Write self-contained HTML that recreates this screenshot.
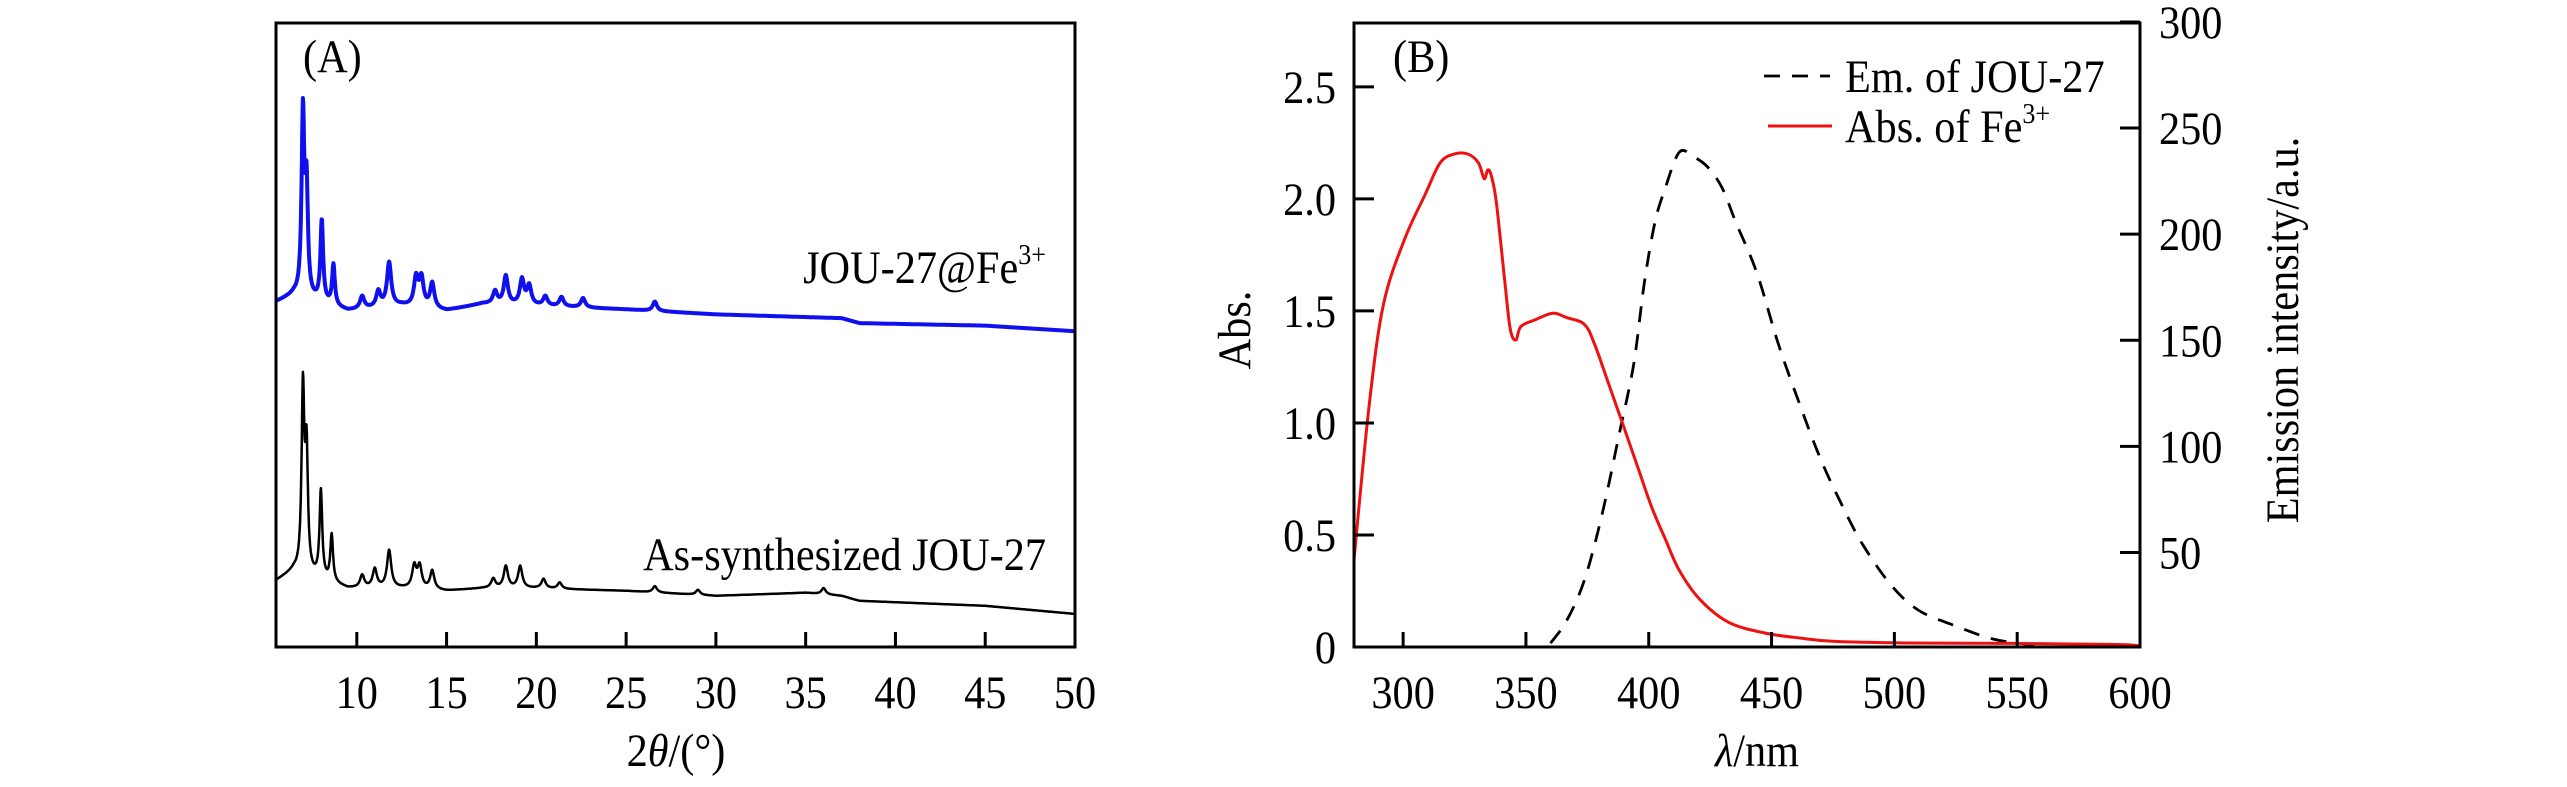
<!DOCTYPE html>
<html><head><meta charset="utf-8">
<style>
html,body{margin:0;padding:0;background:#fff;}
svg{display:block;font-family:"Liberation Serif",serif;}
</style></head>
<body>
<svg id="fig" width="2567" height="787" viewBox="0 0 2567 787" xmlns="http://www.w3.org/2000/svg">
<g id="pa"></g>
<g id="pb"></g>
</svg>
<script>
// ---------- Panel A data (XRD) ----------
const aBlueBaseX = [5.5, 6.5, 9.5, 12.5, 15, 17, 20, 25, 30, 37, 38, 45, 50];
const aBlueBaseY = [55.3, 56.4, 53.9, 54.7, 53.9, 55, 54.7, 54.1, 53.3, 52.7, 51.9, 51.5, 50.6];
const aBluePeakPos = [7.0, 7.2, 8.05, 8.7, 10.3, 11.2, 11.8, 13.3, 13.6, 14.2, 17.7, 18.3, 19.2, 19.6, 20.5, 21.4, 22.6, 26.6];
const aBluePeakH = [29, 17, 13, 6.5, 2, 2.5, 7, 4.5, 4.5, 4, 2, 4.5, 4, 3, 1.5, 1.5, 1.5, 1.5];
const aBlackBaseX = [5.5, 6.5, 9.5, 12.5, 15, 17, 20, 25, 30, 35, 37, 38, 45, 50];
const aBlackBaseY = [10.6, 12.2, 9.4, 9.4, 9.0, 9.4, 9.4, 9.0, 8.2, 8.7, 8.2, 7.4, 6.6, 5.3];
const aBlackPeakPos = [7.0, 7.2, 8.0, 8.6, 10.3, 11.0, 11.8, 13.2, 13.5, 14.2, 17.6, 18.3, 19.1, 20.4, 21.3, 26.6, 29, 36];
const aBlackPeakH = [29, 19, 14, 7.5, 2, 3, 6, 3.5, 3.5, 3, 1.5, 3.5, 3.5, 1.5, 1, 1, 0.8, 1];
const aTicks = [10, 15, 20, 25, 30, 35, 40, 45, 50];

// ---------- Panel B data ----------
const absX = [280,286.2,292,300.6,309,315,320.7,326.4,330.7,333,334.5,336,338,341.3,343.6,345.9,347.9,353.7,360.9,366.6,373.8,378,383.8,389.6,395.3,401,406.8,412.5,421,432.6,447,461.4,475.7,504,547.5,590.5,600];
const absY = [0.39,1.08,1.53,1.82,2.02,2.16,2.20,2.20,2.16,2.09,2.13,2.10,1.98,1.64,1.42,1.37,1.43,1.46,1.49,1.47,1.44,1.35,1.17,0.99,0.81,0.63,0.48,0.34,0.21,0.11,0.063,0.04,0.025,0.018,0.016,0.011,0.005];
const emX = [360,366.6,373.8,381,388,393.9,398.2,402.5,406.8,412.5,418.3,424,429.8,435.5,444,452.7,461.4,470,478.6,487.2,498.7,510,524.5,538.9,550.4,562];
const emY = [7.3,18,37,68,106,139,177,205.5,222,238.7,236.4,231.6,222,205.5,181.8,148.5,120,94,72.5,53.6,34.6,22.7,15.6,9.6,7.3,6];
const bXTicks = [300,350,400,450,500,550,600];
const bLTicks = [0,0.5,1.0,1.5,2.0,2.5];
const bLTickLabels = ["0","0.5","1.0","1.5","2.0","2.5"];
const bRTicks = [50,100,150,200,250,300];

const NS = "http://www.w3.org/2000/svg";
const FS = 47, SX = 0.9;
function mk(parent, tag, attrs, text){
  const e = document.createElementNS(NS, tag);
  for (const k in attrs) e.setAttribute(k, attrs[k]);
  if (text !== undefined) e.textContent = text;
  parent.appendChild(e);
  return e;
}
function txt(parent, x, y, anchor, html, rot){
  const tr = rot ? `translate(${x},${y}) rotate(-90) scale(${SX},1)` : `translate(${x},${y}) scale(${SX},1)`;
  const e = mk(parent,'text',{x:0,y:0,'font-size':FS,'text-anchor':anchor,transform:tr});
  e.innerHTML = html;
  return e;
}
function interp(xs, ys, x){
  if (x <= xs[0]) return ys[0];
  for (let i=1;i<xs.length;i++){ if (x <= xs[i]){ const t=(x-xs[i-1])/(xs[i]-xs[i-1]); return ys[i-1]+t*(ys[i]-ys[i-1]); } }
  return ys[ys.length-1];
}
function pattern(baseX, baseY, pos, h, x){
  let v = interp(baseX, baseY, x);
  for (let i=0;i<pos.length;i++){ const w = pos[i] < 9 ? 0.09 : 0.14; const d=(x-pos[i])/w; v += h[i]/(1+d*d); }
  return v;
}

// ---------- Panel A ----------
const pa = document.getElementById('pa');
const A = {l:276, r:1075, t:23, b:647, x0:5.5, x1:50, y0:0, y1:100};
const ax = v => A.l + (v-A.x0)/(A.x1-A.x0)*(A.r-A.l);
const ay = v => A.b - (v-A.y0)/(A.y1-A.y0)*(A.b-A.t);
function seriesPath(baseX, baseY, pos, h){
  let d = "";
  for (let x=A.x0; x<=A.x1+1e-9; x+=0.02){ d += (d?"L":"M") + ax(x).toFixed(1) + "," + ay(pattern(baseX,baseY,pos,h,x)).toFixed(1); }
  return d;
}
let e;
e = mk(pa,'path',{d:seriesPath(aBlueBaseX,aBlueBaseY,aBluePeakPos,aBluePeakH),fill:'none',stroke:'#1010ee','stroke-width':4,'stroke-linejoin':'round'});


e = mk(pa,'path',{d:seriesPath(aBlackBaseX,aBlackBaseY,aBlackPeakPos,aBlackPeakH),fill:'none',stroke:'#000','stroke-width':2.5,'stroke-linejoin':'round'});


e = mk(pa,'rect',{x:A.l,y:A.t,width:A.r-A.l,height:A.b-A.t,fill:'none',stroke:'#000','stroke-width':3});


aTicks.forEach(t=>{
  e = mk(pa,'line',{x1:ax(t),x2:ax(t),y1:A.b,y2:A.b-15,stroke:'#000','stroke-width':3});
  
  
  e = txt(pa, ax(t), 708, 'middle', String(t));
  
  
});
e = txt(pa, 676, 766, 'middle', '2<tspan font-style="italic">θ</tspan>/(°)');


e = txt(pa, 303, 72, 'start', '(A)');


e = txt(pa, 1046, 283, 'end', 'JOU-27@Fe<tspan font-size="29" dy="-19">3+</tspan>');


e = txt(pa, 1046, 570, 'end', 'As-synthesized JOU-27');



// ---------- Panel B ----------
const pb = document.getElementById('pb');
const B = {l:1354, r:2140, t:23, b:647, x0:280, x1:600, yl0:0, yl1:2.785, yr0:5.5, yr1:299.5};
const bx = v => B.l + (v-B.x0)/(B.x1-B.x0)*(B.r-B.l);
const byl = v => B.b - (v-B.yl0)/(B.yl1-B.yl0)*(B.b-B.t);
const byr = v => B.b - (v-B.yr0)/(B.yr1-B.yr0)*(B.b-B.t);
function smoothD(xs, ys, fy){
  const P = xs.map((x,i)=>[bx(x), fy(ys[i])]);
  let d = "M"+P[0][0].toFixed(1)+","+P[0][1].toFixed(1);
  for (let i=0;i<P.length-1;i++){
    const p0=P[Math.max(0,i-1)], p1=P[i], p2=P[i+1], p3=P[Math.min(P.length-1,i+2)];
    const c1=[p1[0]+(p2[0]-p0[0])/6, p1[1]+(p2[1]-p0[1])/6];
    const c2=[p2[0]-(p3[0]-p1[0])/6, p2[1]-(p3[1]-p1[1])/6];
    d += "C"+c1[0].toFixed(1)+","+c1[1].toFixed(1)+" "+c2[0].toFixed(1)+","+c2[1].toFixed(1)+" "+p2[0].toFixed(1)+","+p2[1].toFixed(1);
  }
  return d;
}
e = mk(pb,'path',{d:smoothD(emX,emY,byr),fill:'none',stroke:'#000','stroke-width':2.8,'stroke-dasharray':'16,12','stroke-linejoin':'round'});


e = mk(pb,'path',{d:smoothD(absX,absY,byl),fill:'none',stroke:'#ee1111','stroke-width':3,'stroke-linejoin':'round'});


e = mk(pb,'rect',{x:B.l,y:B.t,width:B.r-B.l,height:B.b-B.t,fill:'none',stroke:'#000','stroke-width':3});


bXTicks.forEach(t=>{
  e = mk(pb,'line',{x1:bx(t),x2:bx(t),y1:B.b,y2:B.b-15,stroke:'#000','stroke-width':3});
  
  
  e = txt(pb, bx(t), 708, 'middle', String(t));
  
  
});
bLTicks.forEach((t,i)=>{
  e = mk(pb,'line',{x1:B.l,x2:B.l+20,y1:byl(t),y2:byl(t),stroke:'#000','stroke-width':3});
  
  
  e = txt(pb, 1336, byl(t)+16, 'end', bLTickLabels[i]);
  
  
});
bRTicks.forEach(t=>{
  e = mk(pb,'line',{x1:B.r,x2:B.r-20,y1:byr(t),y2:byr(t),stroke:'#000','stroke-width':3});
  
  
  e = txt(pb, 2159, byr(t)+16, 'start', String(t));
  
  
});
e = txt(pb, 1757, 766, 'middle', '<tspan font-style="italic">λ</tspan>/nm');


e = txt(pb, 1250, 330, 'middle', 'Abs.', true);


e = txt(pb, 2298, 330, 'middle', 'Emission intensity/a.u.', true);


e = txt(pb, 1393, 72, 'start', '(B)');


e = mk(pb,'line',{x1:1764,x2:1830,y1:76,y2:76,stroke:'#000','stroke-width':2.8,'stroke-dasharray':'16,12'});


e = txt(pb, 1845, 92, 'start', 'Em. of JOU-27');


e = mk(pb,'line',{x1:1768,x2:1832,y1:126,y2:126,stroke:'#ee1111','stroke-width':3});


e = txt(pb, 1845, 142, 'start', 'Abs. of Fe<tspan font-size="29" dy="-19">3+</tspan>');


</script>
</body></html>
